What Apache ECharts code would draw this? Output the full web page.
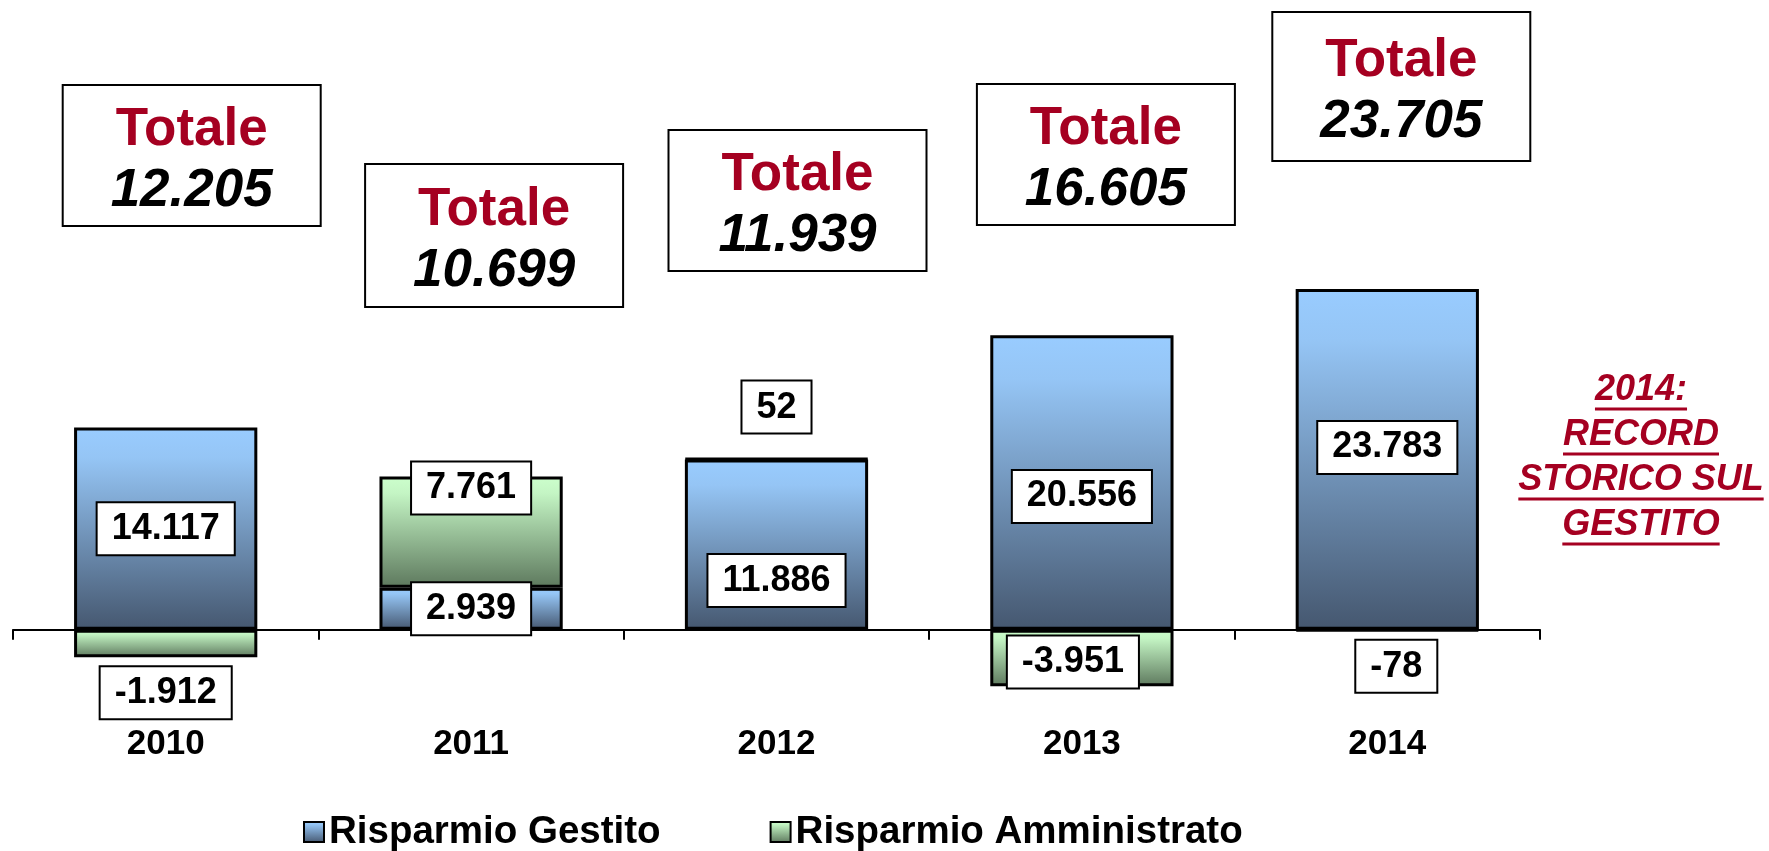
<!DOCTYPE html>
<html><head><meta charset="utf-8">
<script src="https://cdn.jsdelivr.net/npm/echarts@6/dist/echarts.min.js"></script>
<style>html,body{margin:0;padding:0;background:#fff}#c{width:1769px;height:851px}</style>
</head><body><div id="c"></div>
<script>
// ---- data ----
const categories = ['2010', '2011', '2012', '2013', '2014'];
const gestito = [14117, 2939, 11886, 20556, 23783];
const amministrato = [-1912, 7761, 52, -3951, -78];
const totali = [12205, 10699, 11939, 16605, 23705];
const seriesNames = ['Risparmio Gestito', 'Risparmio Amministrato'];
const totalTitle = 'Totale';
const noteLines = ['2014:', 'RECORD', 'STORICO SUL', 'GESTITO'];

// ---- styles / layout ----
const FONT = '"Liberation Sans", Arial, sans-serif';
const RED = '#A50021';
const gestitoLabelStyle = [
  {position: 'inside'}, {position: 'inside'}, {position: 'inside', offset: [0, 36]},
  {position: 'inside', offset: [0, 14]}, {position: 'inside', offset: [0, -12]}
];
const ammLabelStyle = [
  {position: 'bottom', distance: 10}, {position: 'insideTop', offset: [0, -19]},
  {position: 'top', distance: 25}, {position: 'inside', offset: [-9, 4]},
  {position: 'bottom', distance: 9, offset: [9, 0]}
];
const totalBoxTop = [85, 164, 130, 84, 12];
const totalBoxH = [141, 143, 141, 141, 149];
const totalBoxDx = [26, 23, 21, 24, 14];
const BOX_W = 258;

function fmt(v) {
  const s = Math.abs(v).toString().replace(/\B(?=(\d{3})+(?!\d))/g, '.');
  return (v < 0 ? '-' : '') + s;
}

const blueGrad = new echarts.graphic.LinearGradient(0, 0, 0, 1, [
  {offset: 0, color: '#99CCFF'}, {offset: 0.15, color: '#95C5F5'}, {offset: 1, color: '#45576F'}
]);
const greenGrad = new echarts.graphic.LinearGradient(0, 0, 0, 1, [
  {offset: 0, color: '#CCFFCC'}, {offset: 0.15, color: '#C4F5C4'}, {offset: 1, color: '#5D785D'}
]);

const labelBase = {
  show: true, formatter: p => fmt(p.value), color: '#000', fontFamily: FONT, fontWeight: 'bold',
  fontSize: 36, lineHeight: 38, backgroundColor: '#fff', borderColor: '#000', borderWidth: 2,
  padding: [7, 14, 6, 14]
};

function mkData(values, styles) {
  return values.map((v, i) => ({value: v, label: Object.assign({}, styles[i])}));
}

const chart = echarts.init(document.getElementById('c'), null, {renderer: 'canvas'});
chart.setOption({
  animation: false,
  backgroundColor: '#fff',
  grid: {left: 13, width: 1527, top: 273, height: 428.4},
  legend: {
    data: seriesNames, left: 298, top: 807, itemWidth: 20, itemHeight: 20, itemGap: 109, icon: 'rect',
    textStyle: {fontFamily: FONT, fontWeight: 'bold', fontSize: 38.5, color: '#000', lineHeight: 40},
    itemStyle: {borderWidth: 2, borderColor: '#000'}
  },
  xAxis: {
    type: 'category', data: categories,
    axisLine: {onZero: true, lineStyle: {color: '#000', width: 2}},
    axisTick: {show: true, length: 10, lineStyle: {color: '#000', width: 2}},
    axisLabel: {margin: 25, color: '#000', fontFamily: FONT, fontWeight: 'bold', fontSize: 35},
    splitLine: {show: false}
  },
  yAxis: {type: 'value', min: -5000, max: 24900, show: false},
  series: [
    {
      name: seriesNames[0], type: 'bar', stack: 'tot', barWidth: '60%',
      data: mkData(gestito, gestitoLabelStyle),
      itemStyle: {color: blueGrad, borderColor: '#000', borderWidth: 3},
      label: labelBase
    },
    {
      name: seriesNames[1], type: 'bar', stack: 'tot', barWidth: '60%',
      data: mkData(amministrato, ammLabelStyle),
      itemStyle: {color: greenGrad, borderColor: '#000', borderWidth: 3},
      label: labelBase
    }
  ]
});

// ---- annotations ----
const graphics = [];
categories.forEach((c, i) => {
  const cx = chart.convertToPixel({xAxisIndex: 0}, c) + totalBoxDx[i];
  const h = totalBoxH[i];
  graphics.push({
    type: 'group', x: cx - BOX_W / 2, y: totalBoxTop[i],
    children: [
      {type: 'rect', shape: {x: 0, y: 0, width: BOX_W, height: h},
       style: {fill: '#fff', stroke: '#000', lineWidth: 2}},
      {type: 'text', x: BOX_W / 2, y: h / 2 + 5,
       style: {
         text: '{t|' + totalTitle + '}\n{v|' + fmt(totali[i]) + '}',
         align: 'center', verticalAlign: 'middle',
         rich: {
           t: {fontFamily: FONT, fontWeight: 'bold', fontSize: 53, lineHeight: 61, fill: RED, color: RED},
           v: {fontFamily: FONT, fontWeight: 'bold', fontStyle: 'italic', fontSize: 53, lineHeight: 61, fill: '#000', color: '#000'}
         }
       }}
    ]
  });
});

const NOTE_CX = 1641, NOTE_F = 36;
const noteBaselines = [403, 448, 493, 538];
const mctx = document.createElement('canvas').getContext('2d');
mctx.font = 'italic bold ' + NOTE_F + 'px ' + FONT;
noteLines.forEach((t, i) => {
  const w = mctx.measureText(t).width;
  const b = noteBaselines[i];
  graphics.push({
    type: 'text', x: NOTE_CX, y: b - 0.35 * NOTE_F,
    style: {text: t, align: 'center', verticalAlign: 'middle', fill: RED,
            font: 'italic bold ' + NOTE_F + 'px ' + FONT}
  });
  graphics.push({
    type: 'line', shape: {x1: NOTE_CX - w / 2, y1: b + 6, x2: NOTE_CX + w / 2, y2: b + 6},
    style: {stroke: RED, lineWidth: 3}
  });
});
chart.setOption({graphic: graphics});
</script>
</body></html>
